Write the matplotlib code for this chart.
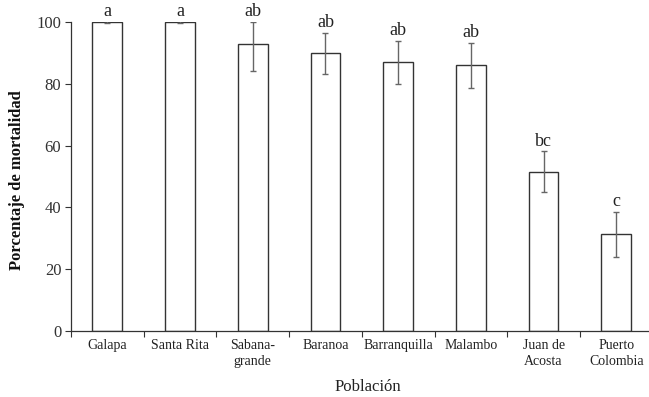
import matplotlib
matplotlib.use("Agg")
import matplotlib.pyplot as plt
import numpy as np

categories = ["Galapa", "Santa Rita", "Sabana-\ngrande", "Baranoa", "Barranquilla",
              "Malambo", "Juan de\nAcosta", "Puerto\nColombia"]
mortality = [100.0, 100.0, 92.8, 89.9, 87.2, 86.0, 51.6, 31.5]
err_low = [0.2, 0.2, 8.7, 6.8, 7.2, 7.5, 6.7, 7.5]
err_high = [0.2, 0.2, 7.2, 6.6, 6.8, 7.3, 6.5, 7.0]
letters = ["a", "a", "ab", "ab", "ab", "ab", "bc", "c"]

plt.rcParams['font.family'] = ['Liberation Serif', 'DejaVu Serif']

fig = plt.figure(figsize=(6.49, 3.97), dpi=100)
ax = fig.add_axes([0.1094, 0.1662, 0.8906, 0.7784])

x = np.arange(len(categories))
ax.bar(x, mortality, width=0.41, color='white', edgecolor='#333333', linewidth=1.0, zorder=2)
ax.errorbar(x, mortality, yerr=[err_low, err_high], fmt='none', ecolor='#666666',
            elinewidth=1.0, capsize=2.5, capthick=1.0, zorder=3)

for xi, m, eh, lab in zip(x, mortality, err_high, letters):
    ax.text(xi, m + eh + 0.6, lab, ha='center', va='bottom', fontsize=13, color='#222222')

ax.set_xlim(-0.5, 7.45)
ax.set_ylim(0, 100)
ax.set_yticks([0, 20, 40, 60, 80, 100])
ax.tick_params(axis='y', labelsize=12, length=4, width=0.8, colors='#333333', pad=3)
ax.set_xticks(x)
ax.set_xticklabels(categories, fontsize=10, color='#222222', linespacing=1.3)
ax.tick_params(axis='x', which='major', length=0, pad=6)
ax.set_xticks(np.arange(-0.5, 7.0, 1.0), minor=True)
ax.tick_params(axis='x', which='minor', length=4, width=0.8, colors='#333333')

for s in ['top', 'right']:
    ax.spines[s].set_visible(False)
for s in ['left', 'bottom']:
    ax.spines[s].set_color('#333333')
    ax.spines[s].set_linewidth(0.9)

fig.text(17 / 649, 1 - 180 / 397, "Porcentaje de mortalidad", rotation=90, fontsize=12,
         fontweight='bold', color='#111111', ha='center', va='center')
fig.text(368 / 649, 1 - 387 / 397, "Población", fontsize=12, color='#222222',
         ha='center', va='center')

fig.savefig("out.png", dpi=100)
